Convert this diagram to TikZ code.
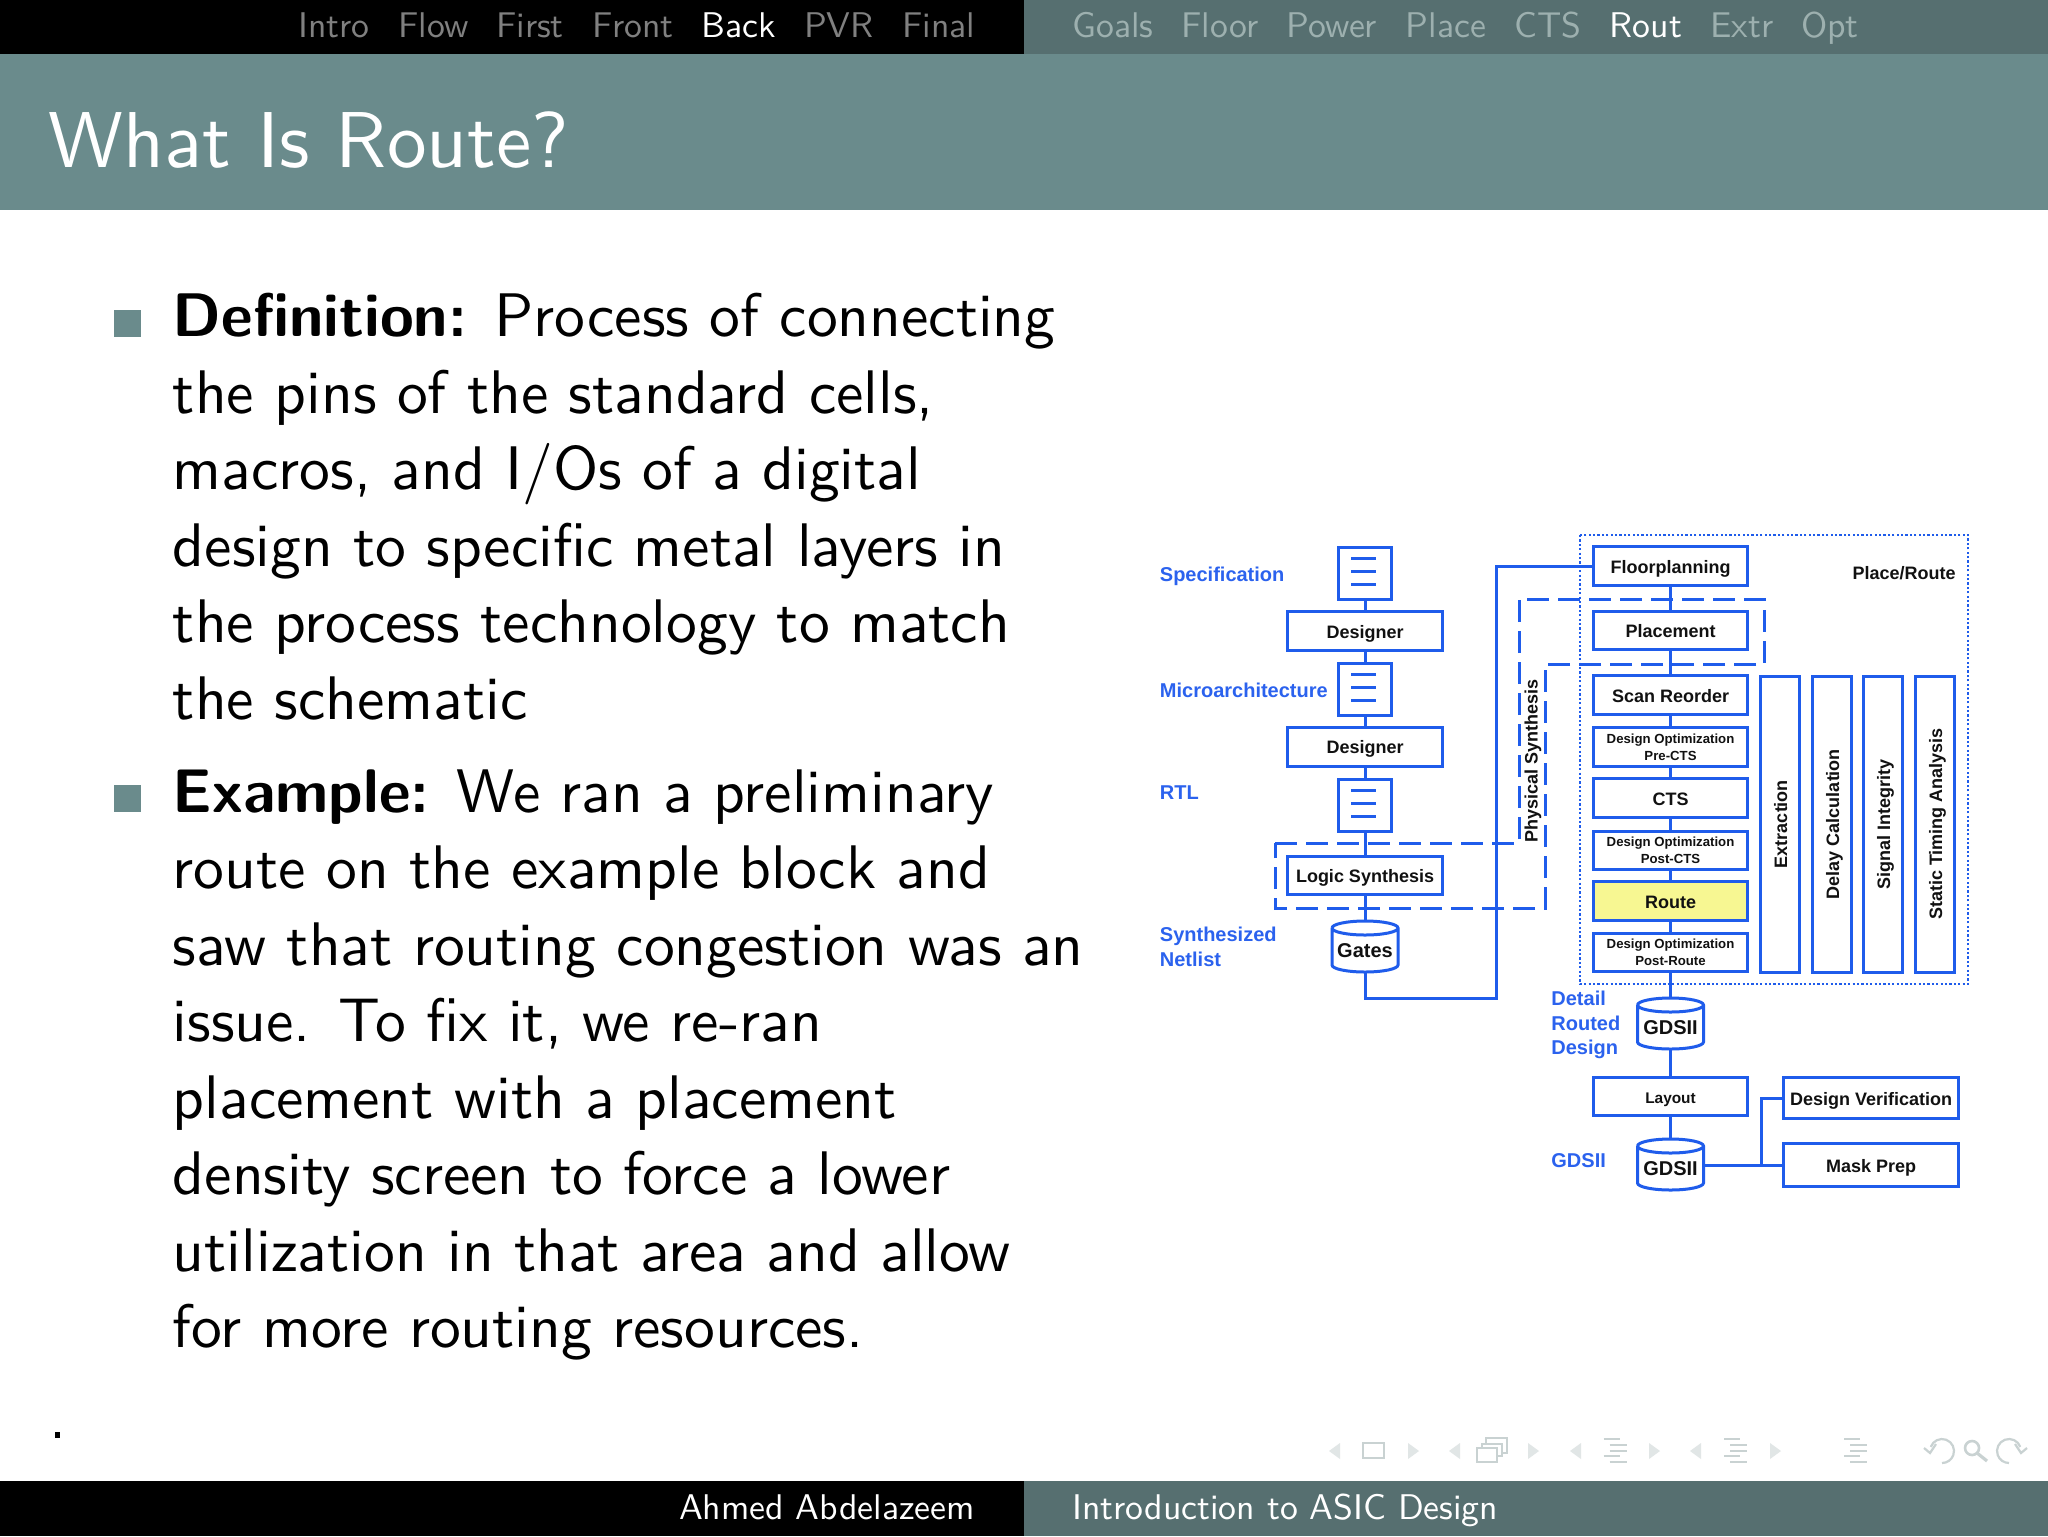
\documentclass[tikz,border=0pt]{standalone}
\usepackage{fontspec}
\usetikzlibrary{shapes.geometric}
\newfontfamily\lms{lmsans10-regular.otf}[BoldFont=lmsans10-bold.otf]
\newfontfamily\lib{Liberation Sans}
\definecolor{teal}{HTML}{6A8B8C}
\definecolor{darkteal}{HTML}{566F70}
\definecolor{bl}{HTML}{1F5CEB}
\definecolor{lb}{HTML}{2B62EE}
\definecolor{ink}{HTML}{111111}
\definecolor{navgrey}{HTML}{C9D2D2}
\definecolor{navtricol}{HTML}{E1E6E6}
\definecolor{routeyel}{HTML}{F7F792}
\newcommand{\dsz}[1]{\fontsize{#1}{#1}\selectfont}
\tikzset{
  x=0.5pt,y=-0.5pt,
  body/.style={anchor=base west,inner sep=0pt,align=left,font=\lms\fontsize{30.76}{38.25}\selectfont,text=black},
  navitem/.style={anchor=base,inner sep=0pt,font=\lms\fontsize{17.85}{20}\selectfont},
  dim/.style={navitem,text=black!50!white},
  dimr/.style={navitem,text={rgb,255:red,157;green,176;blue,175}},
  hi/.style={navitem,text=white},
  wire/.style={draw=bl,line width=1.5pt},
  box/.style={wire,fill=white,inner sep=0pt,text=ink,font=\lib\bfseries\dsz{9},align=center,text height=0.716em,text depth=0pt},
  small/.style={font=\lib\bfseries\fontsize{6.6}{8.3}\selectfont,text=ink,text height={},text depth={}},
  lbl/.style={anchor=west,inner sep=0pt,align=left,text=lb,font=\lib\bfseries\fontsize{10}{12.2}\selectfont},
  ink9/.style={inner sep=0pt,text=ink,font=\lib\bfseries\dsz{9},align=center},
  cyltxt/.style={inner sep=0pt,text=ink,font=\lib\bfseries\dsz{10},text height=0.716em,text depth=0pt},
  dash box/.style={draw=bl,line width=1.5pt,dash pattern=on 11pt off 4.5pt},
  dot box/.style={draw=bl,line width=1.4pt,dash pattern=on 1.1pt off 1.1pt},
  navtri/.style={fill=navtricol,draw=none},
  navline/.style={draw=navgrey,line width=1.1pt},
}
\newcommand{\rbox}[6][]{\node[box,minimum width=#4*0.5pt,minimum height=#5*0.5pt,#1] (#2) at (#3) {#6};}
\newcommand{\docbox}[2]{%
  \node[box,minimum width=26.5pt,minimum height=26pt] (#1) at (#2) {};
  \draw[wire,line width=1.2pt] ([shift={(14,13)}]#1.north west) -- ([shift={(39,13)}]#1.north west)
    ([shift={(14,26)}]#1.north west) -- ([shift={(39,26)}]#1.north west)
    ([shift={(14,39)}]#1.north west) -- ([shift={(39,39)}]#1.north west);}
\newcommand{\cyl}[4]{% name, center x, top y, text
  \path[fill=white] (#2-33,#3+7) arc[start angle=180,end angle=360,x radius=33,y radius=7]
    -- (#2+33,#3+44) arc[start angle=0,end angle=180,x radius=33,y radius=7] -- cycle;
  \draw[wire] (#2-33,#3+7) arc[start angle=180,end angle=-180,x radius=33,y radius=7]
    (#2-33,#3+7) -- (#2-33,#3+44) arc[start angle=180,end angle=0,x radius=33,y radius=7] -- (#2+33,#3+7);
  \node[cyltxt] (#1) at (#2,#3+29) {#4};
  \coordinate (#1t) at (#2,#3);
  \coordinate (#1b) at (#2,#3+51);
  \coordinate (#1r) at (#2+33,#3+26);}
\newcommand{\ltri}[1]{\fill[navtri] (#1,1451) -- (#1+11,1443) -- (#1+11,1459) -- cycle;}
\newcommand{\rtri}[1]{\fill[navtri] (#1,1443) -- (#1+11,1451) -- (#1,1459) -- cycle;}
\newcommand{\navlines}[1]{\draw[navline] (#1,1439) -- ++(16,0) (#1+6,1445) -- ++(17,0) (#1+6,1451) -- ++(17,0) (#1,1456) -- ++(16,0) (#1+6,1462) -- ++(17,0);}
\begin{document}
\begin{tikzpicture}
\useasboundingbox (0,0) rectangle (2048,1536);
\fill[white] (0,0) rectangle (2048,1536);
% bars
\fill[black] (0,0) rectangle (1024,54);
\fill[darkteal] (1024,0) rectangle (2048,54);
\fill[teal] (0,54) rectangle (2048,209.5);
\fill[black] (0,1481) rectangle (1024,1536);
\fill[darkteal] (1024,1481) rectangle (2048,1536);
% nav
\node[dim] (n1) at (334,38) {Intro};
\node[dim] (n2) at (433.5,38) {Flow};
\node[dim] (n3) at (530,38) {First};
\node[dim] (n4) at (633,38) {Front};
\node[hi]  (n5) at (739,38) {Back};
\node[dim] (n6) at (839,38) {PVR};
\node[dim] (n7) at (939,38) {Final};
\node[dimr] (m1) at (1113,38) {Goals};
\node[dimr] (m2) at (1220,38) {Floor};
\node[dimr] (m3) at (1332,38) {Power};
\node[dimr] (m4) at (1446,38) {Place};
\node[dimr] (m5) at (1548,38) {CTS};
\node[hi]   (m6) at (1646,38) {Rout};
\node[dimr] (m7) at (1742,38) {Extr};
\node[dimr] (m8) at (1830,38) {Opt};
% title
\node[anchor=base west,inner sep=0pt,text=white,font=\lms\fontsize{39.6}{44}\selectfont] (title) at (48,167) {What Is Route?};
% body
\fill[teal] (114,310) rectangle (141,337);
\fill[teal] (114,785) rectangle (141,812);
\node[body] (b1) at (172.5,719) {\textbf{Definition:} Process of connecting\\the pins of the standard cells,\\macros, and I/Os of a digital\\design to specific metal layers in\\the process technology to match\\the schematic};
\node[body] (b2) at (172.5,1347.5) {\textbf{Example:} We ran a preliminary\\route on the example block and\\saw that routing congestion was an\\issue.  To fix it, we re-ran\\placement with a placement\\density screen to force a lower\\utilization in that area and allow\\for more routing resources.};
\fill[black] (55,1432) rectangle (60,1438);
% footer
\node[anchor=base,inner sep=0pt,text=white,font=\lms\fontsize{17.85}{20}\selectfont] (f1) at (827,1519) {Ahmed Abdelazeem};
\node[anchor=base west,inner sep=0pt,text=white,font=\lms\fontsize{17.85}{20}\selectfont] (f2) at (1072,1519) {Introduction to ASIC Design};
% outlines
\draw[dash box] (1275,843) -- (1519,843) -- (1519,599) -- (1764,599) -- (1764,664) -- (1545,664) -- (1545,908) -- (1275,908) -- cycle;
\draw[dot box] (1580,535) rectangle (1968,984);
% left column
\docbox{s1}{1365,573}
\rbox{d1}{1365,631}{155}{38.5}{Designer}
\docbox{s2}{1365,689}
\rbox{d2}{1365,746.5}{155}{39}{Designer}
\docbox{s3}{1365,805}
\rbox{ls}{1365,875.5}{155}{38}{Logic Synthesis}
\cyl{gates}{1365}{921}{Gates}
\draw[wire] (s1) -- (d1);
\draw[wire] (d1) -- (s2);
\draw[wire] (s2) -- (d2);
\draw[wire] (d2) -- (s3);
\draw[wire] (s3) -- (ls);
\draw[wire] (ls) -- (gatest);
% right column
\rbox{fp}{1670.5,566}{154}{38.5}{Floorplanning}
\rbox{pl}{1670.5,630}{154}{38}{Placement}
\rbox{sr}{1670.5,695}{154}{38.5}{Scan Reorder}
\rbox[small]{o1}{1670.5,747}{154}{39}{Design Optimization\\Pre-CTS}
\rbox{cts}{1670.5,798}{154}{38.5}{CTS}
\rbox[small]{o2}{1670.5,850}{154}{38}{Design Optimization\\Post-CTS}
\rbox[fill=routeyel]{rt}{1670.5,901}{154}{38.5}{Route}
\rbox[small]{o3}{1670.5,952.5}{154}{38.5}{Design Optimization\\Post-Route}
\draw[wire] (fp) -- (pl);
\draw[wire] (pl) -- (sr);
\draw[wire] (sr) -- (o1);
\draw[wire] (o1) -- (cts);
\draw[wire] (cts) -- (o2);
\draw[wire] (o2) -- (rt);
\draw[wire] (rt) -- (o3);
\coordinate (bend) at (1496,998);
\draw[wire] (gatesb) |- (bend) |- (fp.west);
\rbox[rotate=90]{c1}{1780,824}{296}{39.5}{Extraction}
\rbox[rotate=90]{c2}{1832,824}{296}{39.5}{Delay Calculation}
\rbox[rotate=90]{c3}{1883,824}{296}{39.5}{Signal Integrity}
\rbox[rotate=90]{c4}{1935,824}{296}{39.5}{Static Timing Analysis}
\node[ink9] (pr) at (1904,573) {Place/Route};
\node[ink9,rotate=90] (ps) at (1533,761) {Physical Synthesis};
% lower
\cyl{g1}{1670.5}{998}{GDSII}
\draw[wire] (o3) -- (g1t);
\rbox[font=\lib\bfseries\dsz{7.7}]{lay}{1670.5,1096.5}{154}{38}{Layout}
\draw[wire] (g1b) -- (lay);
\cyl{g2}{1670.5}{1139}{GDSII}
\draw[wire] (lay) -- (g2t);
\rbox{dv}{1871,1098}{175}{40.5}{Design Verification}
\rbox{mp}{1871,1165}{175}{42.5}{Mask Prep}
\coordinate (jn) at (1761,1165);
\draw[wire] (g2r) -- (mp.west);
\draw[wire] (jn) |- (dv.west);
% labels
\node[lbl] (l1) at (1159.5,576) {Specification};
\node[lbl] (l2) at (1159.5,690) {Microarchitecture};
\node[lbl] (l3) at (1159.5,793) {RTL};
\node[lbl] (l4) at (1159.5,947) {Synthesized\\Netlist};
\node[lbl] (l5) at (1551,1025) {Detail\\Routed\\Design};
\node[lbl] (l6) at (1551,1161) {GDSII};
% nav symbols
\ltri{1329}
\draw[navline] (1363,1443) rectangle (1384,1458);
\rtri{1408}
\ltri{1449}
\draw[navline,fill=white] (1486,1438) rectangle (1507,1453);
\draw[navline,fill=white] (1482,1444) rectangle (1502,1456);
\draw[navline,fill=white] (1477,1448) rectangle (1497,1462);
\rtri{1528}
\ltri{1570}
\navlines{1603.5}
\rtri{1649}
\ltri{1690}
\navlines{1724}
\rtri{1770}
\navlines{1844}
\draw[navline] (1942,1451) ++(-160:12) arc[start angle=-160,end angle=90,radius=12];
\draw[navline] (1924,1448) -- (1930,1453) -- (1936,1444);
\draw[navline,line width=1.3pt] (1972,1448) circle[radius=7];
\draw[navline,line width=1.6pt] (1977,1453) -- (1987,1461);
\draw[navline] (2009,1451) ++(-20:12) arc[start angle=-20,end angle=-270,radius=12];
\draw[navline] (2027,1448) -- (2021,1453) -- (2015,1444);
\end{tikzpicture}
\end{document}
